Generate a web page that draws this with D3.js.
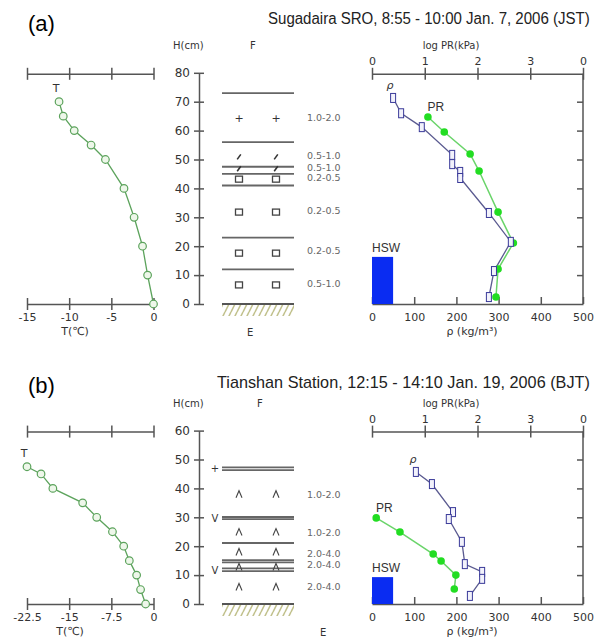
<!DOCTYPE html>
<html>
<head>
<meta charset="utf-8">
<script src="https://cdn.jsdelivr.net/npm/d3@7"></script>
<style>
  body { margin: 0; background: #fff; }
</style>
</head>
<body>
<div id="chart"></div>
<script>
// ---- (a) Sugadaira SRO ----
const titleA = "Sugadaira SRO, 8:55 - 10:00 Jan. 7, 2006 (JST)";
const tempTicksA = [-15, -10, -5, 0];
const tempHeightA = [70, 65, 60, 55, 50, 40, 30, 20, 10, 0];
const tempA = [-11.2, -10.7, -9.4, -7.4, -5.7, -3.5, -2.3, -1.3, -0.7, 0];
const layerLinesA = [73, 56, 47.5, 45, 41, 23, 12];
const grainHeightA = [64.4, 50.9, 46.8, 43.2, 31.8, 17.6, 6.6];
const grainA = ["+", "/", "/", "□", "□", "□", "□"];
const sizeHeightA = [64.4, 51.4, 47.4, 43.6, 32.2, 18.5, 7.0];
const sizeClassA = ["1.0-2.0", "0.5-1.0", "0.5-1.0", "0.2-0.5", "0.2-0.5", "0.2-0.5", "0.5-1.0"];
const rhoHeightA = [71.3, 66, 61.2, 51.6, 48.4, 45.7, 43.6, 31.5, 21.5, 11.4, 2.4];
const rhoA = [50, 69, 118, 190, 190, 209, 209, 277, 329, 289, 277];
const prHeightA = [64.7, 59.5, 51.9, 46, 31.8, 21.1, 12.1, 2.4];
const logPrA = [1.06, 1.37, 1.86, 2.03, 2.39, 2.68, 2.39, 2.35];
const hswA = 16.3;

// ---- (b) Tianshan Station ----
const titleB = "Tianshan Station, 12:15 - 14:10 Jan. 19, 2006 (BJT)";
const tempTicksB = [-22.5, -15, -7.5, 0];
const tempHeightB = [47.5, 45, 40, 35, 30, 25, 20, 15, 10, 5, 0];
const tempB = [-22.5, -20, -17.9, -12.6, -10.1, -7.3, -5.3, -4.3, -3.0, -2.3, -1.4];
const layerLinesB = [47.3, 46.3, 30.1, 29.4, 21.1, 15.2, 14.4, 12.3, 11.4];
const grainHeightB = [38, 24.9, 18, 12.8, 5.9];
const grainB = ["∧", "∧", "∧", "∧", "∧"];
const sizeHeightB = [38, 24.6, 17.6, 13.5, 5.9];
const sizeClassB = ["1.0-2.0", "1.0-2.0", "2.0-4.0", "2.0-4.0", "2.0-4.0"];
const markHeightB = [47, 29.8, 11.9];
const markB = ["+", "V", "V"];
const rhoHeightB = [45.7, 41.5, 31.8, 29.4, 21.5, 13.8, 11.1, 8.7, 2.8];
const rhoB = [104, 142, 192, 182, 213, 220, 261, 261, 232];
const prHeightB = [29.8, 24.9, 17.3, 14.9, 10, 5.2];
const logPrB = [0.08, 0.53, 1.16, 1.31, 1.59, 1.56];
const hswB = 9.3;

const logPrTicks = [0, 1, 2, 3, 4];
const rhoTicks = [0, 100, 200, 300, 400, 500];

const FONT = "'DejaVu Sans', sans-serif";
const SANS = "'Liberation Sans', Arial, sans-serif";
const axisColor = "#555";

const svg = d3.select("#chart")
    .append("svg")
    .attr("width", 602)
    .attr("height", 638)
    .style("font-family", FONT);

// ground hatch
const pattern = svg.append("defs").append("pattern")
    .attr("id", "hatch")
    .attr("patternUnits", "userSpaceOnUse")
    .attr("width", 6)
    .attr("height", 12);
pattern.append("path")
    .attr("d", "M-3,12 L3,0 M3,12 L9,0")
    .attr("stroke", "#c2c28e")
    .attr("stroke-width", 1.6);

function styleAxis(sel, size) {
    sel.select(".domain").attr("stroke", axisColor).attr("stroke-width", 1.5);
    sel.selectAll(".tick line").attr("stroke", axisColor).attr("stroke-width", 1.5);
    sel.selectAll(".tick text")
        .attr("fill", "#333")
        .attr("font-size", size || 11)
        .attr("font-family", FONT);
}

function drawPanel(p) {
    const g = svg.append("g");
    const y = d3.scaleLinear().domain([0, p.hMax]).range([p.base, p.base - p.hMax * 2.89]);
    const top = y(p.hMax) + 1;
    const xT = d3.scaleLinear().domain([p.tTicks[0], 0]).range([27, 153.5]);
    const xPr = d3.scaleLinear().domain([0, 4]).range([372, 583]);
    const xRho = d3.scaleLinear().domain([0, 500]).range([372, 583]);

    // panel letter + title
    g.append("text")
        .attr("x", 28)
        .attr("y", p.letterY)
        .attr("font-family", SANS)
        .attr("font-size", 22)
        .text(p.letter);

    // condensed title: squeeze horizontally so it ends near the right edge
    const title = g.append("text")
        .attr("x", 0)
        .attr("y", 0)
        .attr("font-family", SANS)
        .attr("font-size", 16)
        .attr("fill", "#222")
        .text(p.title);
    const natural = title.node().getComputedTextLength();
    const sx = (590 - p.titleX) / natural;
    title.attr("transform", `translate(${p.titleX},${p.titleY}) scale(${sx},1)`);

    // ---- temperature ----
    g.append("g")
        .attr("transform", `translate(0,${top})`)
        .call(d3.axisBottom(xT).tickValues(p.tTicks).tickSize(6).tickSizeOuter(0).tickFormat(""))
        .call(s => s.selectAll(".tick line").attr("y1", -6))
        .call(s => styleAxis(s));

    g.append("g")
        .attr("transform", `translate(0,${p.base})`)
        .call(d3.axisBottom(xT).tickValues(p.tTicks).tickSize(6).tickSizeOuter(0).tickPadding(3.5)
            .tickFormat(d => String(d)))
        .call(s => s.selectAll(".tick line").attr("y1", -6))
        .call(s => styleAxis(s));

    g.append("text")
        .attr("x", p.tLabelX)
        .attr("y", p.base + 31)
        .attr("text-anchor", "middle")
        .attr("font-size", 11)
        .attr("fill", "#333")
        .text("T(℃)");

    const tPts = p.t.map((v, i) => [xT(v), y(p.tH[i])]);
    g.append("path")
        .attr("d", d3.line()(tPts))
        .attr("fill", "none")
        .attr("stroke", "#5ca35c")
        .attr("stroke-width", 1.3);
    g.selectAll(".tpt")
        .data(tPts)
        .enter()
        .append("circle")
        .attr("cx", d => d[0])
        .attr("cy", d => d[1])
        .attr("r", 3.8)
        .attr("fill", "#eef7ea")
        .attr("stroke", "#5ca35c")
        .attr("stroke-width", 1.2);
    g.append("text")
        .attr("x", tPts[0][0] - 3)
        .attr("y", tPts[0][1] - 10)
        .attr("text-anchor", "middle")
        .attr("font-size", 11)
        .attr("fill", "#333")
        .text("T");

    // ---- height axis + layers ----
    g.append("g")
        .attr("transform", "translate(199,0)")
        .call(d3.axisLeft(y).tickValues(d3.range(0, p.hMax + 1, 10)).tickSize(5).tickSizeOuter(0).tickPadding(4))
        .call(s => s.selectAll(".tick line").attr("x1", 5))
        .call(s => styleAxis(s, 12));

    g.append("text").attr("x", 173).attr("y", top - 25).attr("font-size", 10).attr("fill", "#333").text("H(cm)");
    g.append("text").attr("x", p.fX).attr("y", top - 25).attr("font-size", 10).attr("fill", "#333").text("F");
    g.append("text").attr("x", p.eX).attr("y", p.base + 32).attr("font-size", 10).attr("fill", "#333").text("E");

    g.selectAll(".layer")
        .data(p.lines)
        .enter()
        .append("line")
        .attr("x1", 222)
        .attr("x2", 294)
        .attr("y1", d => y(d))
        .attr("y2", d => y(d))
        .attr("stroke", "#666")
        .attr("stroke-width", 1.8);

    g.append("rect")
        .attr("x", 222)
        .attr("y", p.base)
        .attr("width", 72)
        .attr("height", 12)
        .attr("fill", "url(#hatch)");
    g.append("line")
        .attr("x1", 222).attr("x2", 294)
        .attr("y1", p.base).attr("y2", p.base)
        .attr("stroke", "#555")
        .attr("stroke-width", 1.8);

    [239, 276].forEach(cx => {
        p.grain.forEach((s, i) => {
            const gy = y(p.grainH[i]);
            if (s === "□") {
                g.append("rect")
                    .attr("x", cx - 3.5).attr("y", gy - 3)
                    .attr("width", 7).attr("height", 6)
                    .attr("fill", "none")
                    .attr("stroke", "#444")
                    .attr("stroke-width", 1.3);
            } else if (s === "/") {
                g.append("path")
                    .attr("d", `M${cx - 1.8},${gy + 2.5} L${cx + 1.8},${gy - 2.5}`)
                    .attr("stroke", "#333")
                    .attr("stroke-width", 1.6);
            } else if (s === "∧") {
                g.append("path")
                    .attr("d", `M${cx - 3},${gy + 3.5} L${cx},${gy - 3.5} L${cx + 3},${gy + 3.5}`)
                    .attr("fill", "none")
                    .attr("stroke", "#444")
                    .attr("stroke-width", 1.1);
            } else {
                g.append("text")
                    .attr("x", cx).attr("y", gy + 4)
                    .attr("text-anchor", "middle")
                    .attr("font-size", 11)
                    .attr("fill", "#333")
                    .text(s);
            }
        });
    });

    p.mark.forEach((s, i) => {
        g.append("text")
            .attr("x", 215)
            .attr("y", y(p.markH[i]) + 4)
            .attr("text-anchor", "middle")
            .attr("font-size", 10)
            .attr("fill", "#333")
            .text(s);
    });

    g.selectAll(".size")
        .data(p.size)
        .enter()
        .append("text")
        .attr("x", 307)
        .attr("y", (d, i) => y(p.sizeH[i]) + 3.5)
        .attr("font-size", 9.5)
        .attr("fill", "#666")
        .text(d => d);

    // ---- log PR / density ----
    g.append("text")
        .attr("x", 451)
        .attr("y", top - 25)
        .attr("text-anchor", "middle")
        .attr("font-size", 10)
        .attr("fill", "#333")
        .text("log PR(kPa)");

    g.append("g")
        .attr("transform", `translate(0,${top})`)
        .call(d3.axisTop(xPr).tickValues(logPrTicks).tickSize(6).tickSizeOuter(0).tickPadding(3)
            .tickFormat(d => d === 4 ? "0" : String(d)))
        .call(s => s.selectAll(".tick line").attr("y1", 6))
        .call(s => styleAxis(s));

    g.append("g")
        .attr("transform", `translate(0,${p.base})`)
        .call(d3.axisBottom(xRho).tickValues(rhoTicks).tickSize(0).tickSizeOuter(0).tickPadding(9.5)
            .tickFormat(d => String(d)))
        .call(s => s.selectAll(".tick line").attr("y2", -7))
        .call(s => styleAxis(s));

    g.append("g")
        .attr("transform", "translate(583,0)")
        .call(d3.axisLeft(y).tickValues(d3.range(10, p.hMax, 10)).tickSize(6).tickSizeOuter(0).tickFormat(""))
        .call(s => s.select(".domain").attr("d", `M0,${p.base}V${top}`))
        .call(s => styleAxis(s));

    g.append("text")
        .attr("x", 472)
        .attr("y", p.base + 31)
        .attr("text-anchor", "middle")
        .attr("font-size", 11)
        .attr("fill", "#333")
        .text("ρ (kg/m³)");

    // HSW bar
    g.append("rect")
        .attr("x", xRho(0))
        .attr("y", y(p.hsw))
        .attr("width", xRho(50) - xRho(0))
        .attr("height", y(0) - y(p.hsw))
        .attr("fill", "#0a2cf2");
    g.append("text")
        .attr("x", xRho(0))
        .attr("y", y(p.hsw) - 5)
        .attr("font-family", SANS)
        .attr("font-size", 12)
        .attr("fill", "#333")
        .text("HSW");

    // density
    const rPts = p.rho.map((v, i) => [xRho(v), y(p.rhoH[i])]);
    g.append("path")
        .attr("d", d3.line()(rPts))
        .attr("fill", "none")
        .attr("stroke", "#5a5a90")
        .attr("stroke-width", 1.3);

    // penetration resistance
    const pPts = p.pr.map((v, i) => [xPr(v), y(p.prH[i])]);
    g.append("path")
        .attr("d", d3.line()(pPts))
        .attr("fill", "none")
        .attr("stroke", "#6ad46a")
        .attr("stroke-width", 1.5);
    g.selectAll(".ppt")
        .data(pPts)
        .enter()
        .append("circle")
        .attr("cx", d => d[0])
        .attr("cy", d => d[1])
        .attr("r", 3.8)
        .attr("fill", "#22dd22");

    g.selectAll(".rpt")
        .data(rPts)
        .enter()
        .append("rect")
        .attr("x", d => d[0] - 2.5)
        .attr("y", d => d[1] - 4.5)
        .attr("width", 5)
        .attr("height", 9)
        .attr("fill", "#f2f2fb")
        .attr("stroke", "#3a3a99")
        .attr("stroke-width", 1);

    g.append("text")
        .attr("x", rPts[0][0] - 3)
        .attr("y", rPts[0][1] - 9)
        .attr("text-anchor", "middle")
        .attr("font-size", 11)
        .attr("font-style", "italic")
        .attr("fill", "#333")
        .text("ρ");
    g.append("text")
        .attr("x", pPts[0][0] + 8)
        .attr("y", pPts[0][1] - 6)
        .attr("text-anchor", "middle")
        .attr("font-family", SANS)
        .attr("font-size", 12)
        .attr("fill", "#333")
        .text("PR");
}

drawPanel({
    letter: "(a)", letterY: 31, title: titleA, titleX: 268, titleY: 24,
    base: 304, hMax: 80, tTicks: tempTicksA, tH: tempHeightA, t: tempA, tLabelX: 75,
    lines: layerLinesA, grainH: grainHeightA, grain: grainA, sizeH: sizeHeightA, size: sizeClassA,
    markH: [], mark: [], fX: 250, eX: 247,
    rhoH: rhoHeightA, rho: rhoA, prH: prHeightA, pr: logPrA, hsw: hswA
});

drawPanel({
    letter: "(b)", letterY: 393, title: titleB, titleX: 217, titleY: 388,
    base: 604, hMax: 60, tTicks: tempTicksB, tH: tempHeightB, t: tempB, tLabelX: 70,
    lines: layerLinesB, grainH: grainHeightB, grain: grainB, sizeH: sizeHeightB, size: sizeClassB,
    markH: markHeightB, mark: markB, fX: 257, eX: 320,
    rhoH: rhoHeightB, rho: rhoB, prH: prHeightB, pr: logPrB, hsw: hswB
});
</script>
</body>
</html>
